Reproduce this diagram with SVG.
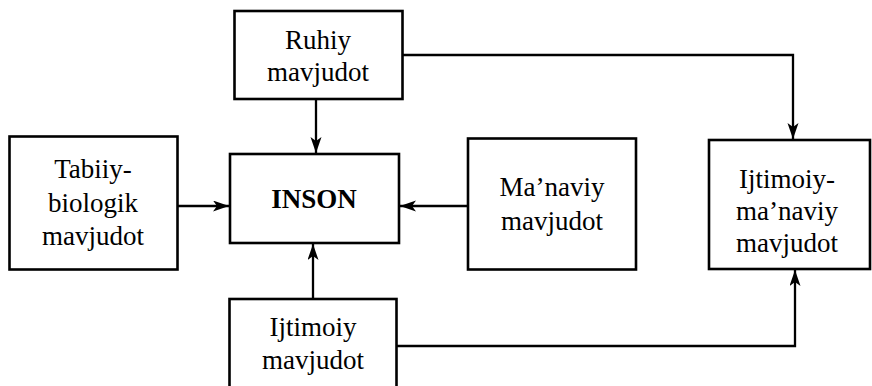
<svg xmlns="http://www.w3.org/2000/svg" width="872" height="386" viewBox="0 0 872 386">
<style>
.box{fill:#fff;stroke:#000;stroke-width:2.6}
.t{font-family:'Liberation Serif','Times New Roman','DejaVu Serif',serif;font-size:27px;fill:#000;text-anchor:middle}
.b{font-weight:bold}
.c{fill:none;stroke:#000;stroke-width:2.3}
</style>
<defs>
<marker id="ar" markerUnits="userSpaceOnUse" markerWidth="17" markerHeight="12" refX="16" refY="5.5" orient="auto" viewBox="0 0 17 12">
<path d="M0,0 L16,5.5 L0,11 L4,5.5 z" fill="#000"/>
</marker>
</defs>
<rect width="872" height="386" fill="#fff"/>
<g id="connectors">
<path class="c" d="M316 99 V153" marker-end="url(#ar)"/>
<path class="c" d="M403 55 H793 V139" marker-end="url(#ar)"/>
<path class="c" d="M178 206 H229" marker-end="url(#ar)"/>
<path class="c" d="M468 206 H400" marker-end="url(#ar)"/>
<path class="c" d="M313 299 V244" marker-end="url(#ar)"/>
<path class="c" d="M397 346 H795 V270" marker-end="url(#ar)"/>
</g>
<g id="ruhiy">
<rect class="box" x="234.5" y="11" width="168" height="88"/>
<text class="t" font-family="Liberation Serif, serif" x="318" y="49">Ruhiy</text>
<text class="t" x="318" y="81">mavjudot</text>
</g>
<g id="inson">
<rect class="box" x="230" y="154" width="169" height="89"/>
<text class="t b" x="314" y="208">INSON</text>
</g>
<g id="tabiiy">
<rect class="box" x="9.5" y="136.5" width="168" height="133"/>
<text class="t" x="93" y="178">Tabiiy-</text>
<text class="t" x="93" y="212">biologik</text>
<text class="t" x="93" y="245">mavjudot</text>
</g>
<g id="manaviy">
<rect class="box" x="468" y="138.5" width="168" height="131"/>
<text class="t" x="552" y="196">Ma’naviy</text>
<text class="t" x="552" y="230">mavjudot</text>
</g>
<g id="ijtimoiy-manaviy">
<rect class="box" x="709" y="140" width="161" height="129"/>
<text class="t" x="787" y="188">Ijtimoiy-</text>
<text class="t" x="787" y="220">ma’naviy</text>
<text class="t" x="787" y="252">mavjudot</text>
</g>
<g id="ijtimoiy">
<rect class="box" x="229.5" y="299" width="167" height="100"/>
<text class="t" x="313" y="336">Ijtimoiy</text>
<text class="t" x="313" y="369">mavjudot</text>
</g>
</svg>
